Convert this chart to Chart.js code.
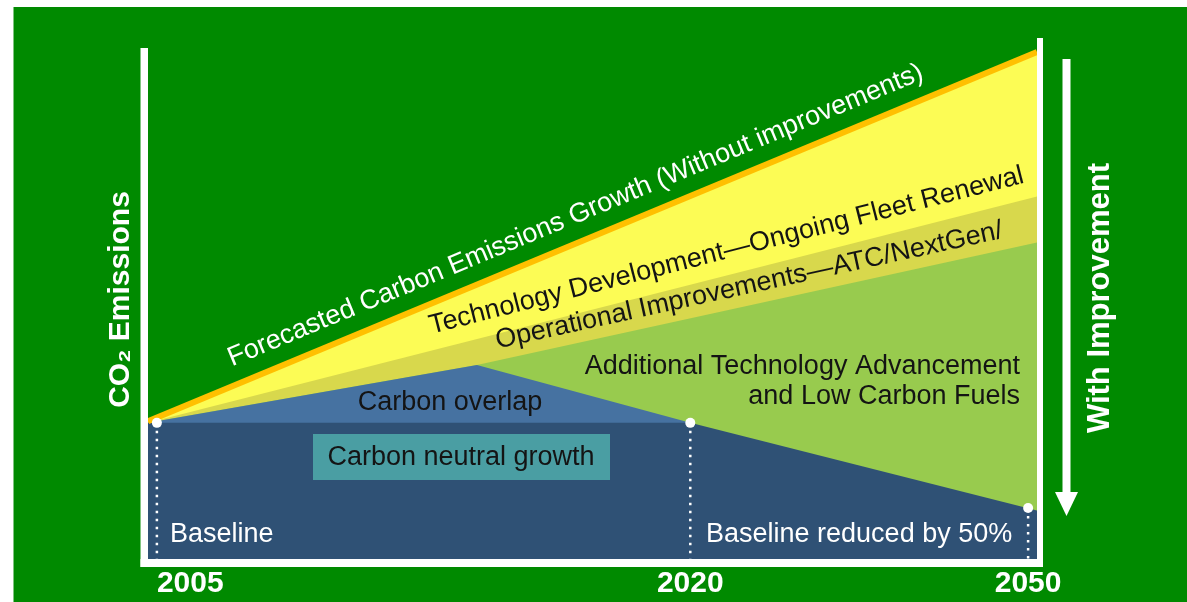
<!DOCTYPE html>
<html>
<head>
<meta charset="utf-8">
<title>CO2 emissions with improvement</title>
<script src="https://cdn.jsdelivr.net/npm/chart.js@4.4.1/dist/chart.umd.min.js"></script>
<style>
  html, body { margin: 0; padding: 0; background: #fff; }
  #wrap { width: 1187px; height: 602px; position: relative; }
</style>
</head>
<body>
<div id="wrap"><canvas id="chart"></canvas></div>
<script>
// Schematic timeline: x runs 0..100 across the plot, y is an emissions index (2005 = 100)
const timeline = [0, 37, 61, 100];            // 2005 start, overlap peak, 2020, 2050 end
const forecastGrowth  = [101, null, null, 318];
const technologyDev   = [100, null, null, 233];
const operationalImp  = [100, 134, null, 206];
const carbonOverlap   = [100, 134, 100, null];
const withImprovement = [100, null, 100, 48.5];

// milestones on the x axis
const milestoneYears = ['2005', '2020', '2050'];
const milestoneX = [1, 61, 99];
const milestoneLevel = [100, 100, 50];         // baseline, carbon neutral, baseline reduced by 50%

const yFloor = 20;
const yCeil = 325;

const GREEN = '#008A00';
const FONT = "'Liberation Sans', Arial, sans-serif";

Chart.defaults.font.family = FONT;

function series(values) {
    return timeline.map(function(x, i) { return { x: x, y: values[i] }; })
        .filter(function(p) { return p.y !== null; });
}

function valueAt(values, xVal) {
    const pts = series(values);
    for (let i = 1; i < pts.length; i++) {
        if (xVal <= pts[i].x) {
            const a = pts[i - 1], b = pts[i];
            return a.y + (b.y - a.y) * (xVal - a.x) / (b.x - a.x);
        }
    }
    return pts[pts.length - 1].y;
}

// dotted drop lines from each milestone dot to the floor
const drops = [];
milestoneX.forEach(function(x, i) {
    drops.push({ x: x, y: milestoneLevel[i] }, { x: x, y: yFloor }, { x: x, y: null });
});

function area(label, values, color, order) {
    return {
        label: label,
        data: series(values),
        backgroundColor: color,
        borderColor: 'transparent',
        borderWidth: 0,
        pointRadius: 0,
        fill: 'start',
        order: order
    };
}

// draw a label rotated along one of the series lines
function labelAlong(chart, values, xVal, lift, text) {
    const ctx = chart.ctx, xs = chart.scales.x, ys = chart.scales.y;
    const pts = series(values);
    const a = pts[pts.length - 2], b = pts[pts.length - 1];
    const angle = Math.atan2(ys.getPixelForValue(b.y) - ys.getPixelForValue(a.y),
                             xs.getPixelForValue(b.x) - xs.getPixelForValue(a.x));
    const px = xs.getPixelForValue(xVal);
    const py = ys.getPixelForValue(valueAt(values, xVal)) - lift;
    ctx.save();
    ctx.translate(px, py);
    ctx.rotate(angle);
    ctx.textAlign = 'left';
    ctx.textBaseline = 'alphabetic';
    ctx.fillText(text, 0, 0);
    ctx.restore();
}

const decor = {
    id: 'decor',
    beforeDraw(chart) {
        const ctx = chart.ctx;
        ctx.save();
        ctx.fillStyle = '#fff';
        ctx.fillRect(0, 0, chart.width, chart.height);
        ctx.fillStyle = GREEN;
        ctx.fillRect(13.5, 7, chart.width - 13.5, chart.height - 7);
        ctx.restore();
    },
    afterDatasetsDraw(chart) {
        const ctx = chart.ctx;
        const ca = chart.chartArea;
        ctx.save();

        // axis frame
        ctx.fillStyle = '#fff';
        ctx.fillRect(ca.left - 7.5, 48, 7.5, ca.bottom + 8 - 48);
        ctx.fillRect(ca.left - 7.5, ca.bottom, ca.right + 6 - ca.left + 7.5, 8);
        ctx.fillRect(ca.right, 38, 6, ca.bottom + 8 - 38);

        // "with improvement" arrow
        ctx.fillRect(ca.right + 25.5, 59, 8, 434);
        ctx.beginPath();
        ctx.moveTo(ca.right + 18, 492);
        ctx.lineTo(ca.right + 41, 492);
        ctx.lineTo(ca.right + 29.5, 516);
        ctx.closePath();
        ctx.fill();

        ctx.save();
        ctx.translate(ca.right + 63, 298);
        ctx.rotate(-Math.PI / 2);
        ctx.font = 'bold 31px ' + FONT;
        ctx.textAlign = 'center';
        ctx.textBaseline = 'middle';
        ctx.fillText('With Improvement', 0, 0);
        ctx.restore();

        // band labels along the lines
        ctx.font = '27px ' + FONT;
        ctx.fillStyle = '#fff';
        labelAlong(chart, forecastGrowth, 9.45, 20, 'Forecasted Carbon Emissions Growth (Without improvements)');
        ctx.fillStyle = '#141414';
        labelAlong(chart, technologyDev, 31.9, 17, 'Technology Development\u2014Ongoing Fleet Renewal');
        labelAlong(chart, operationalImp, 39.3, 12, 'Operational Improvements\u2014ATC/NextGen/');

        // region labels
        ctx.textBaseline = 'middle';
        ctx.textAlign = 'center';
        ctx.fillText('Carbon overlap', 450, 403);

        ctx.fillStyle = '#4A9EA3';
        ctx.fillRect(313, 434, 297, 46);
        ctx.fillStyle = '#141414';
        ctx.fillText('Carbon neutral growth', 461, 458);

        ctx.textAlign = 'right';
        ctx.fillText('Additional Technology Advancement', 1020, 367);
        ctx.fillText('and Low Carbon Fuels', 1020, 397);

        ctx.fillStyle = '#fff';
        ctx.textAlign = 'left';
        ctx.fillText('Baseline', 170, 535);
        ctx.fillText('Baseline reduced by 50%', 706, 535);

        ctx.restore();
    }
};

new Chart(document.getElementById('chart'), {
    type: 'line',
    data: {
        datasets: [
            {
                label: 'Milestones',
                data: milestoneX.map(function(x, i) { return { x: x, y: milestoneLevel[i] }; }),
                showLine: false,
                pointRadius: 5,
                pointBackgroundColor: '#fff',
                pointBorderWidth: 0,
                order: 0
            },
            {
                label: 'Milestone drops',
                data: drops,
                borderColor: '#fff',
                borderWidth: 2.5,
                borderDash: [2.5, 5.5],
                pointRadius: 0,
                fill: false,
                spanGaps: false,
                order: 1
            },
            area('Baseline reduced by 50%', withImprovement, '#2F5175', 2),
            area('Carbon overlap', carbonOverlap, '#4672A1', 3),
            area('Additional Technology Advancement and Low Carbon Fuels', operationalImp, '#98CB4E', 4),
            area('Operational Improvements', technologyDev, '#D8D84C', 5),
            {
                label: 'Forecasted Carbon Emissions Growth',
                data: series(forecastGrowth),
                backgroundColor: '#FCFC55',
                borderColor: '#FFC000',
                borderWidth: 6,
                pointRadius: 0,
                fill: 'start',
                order: 6
            }
        ]
    },
    options: {
        responsive: true,
        maintainAspectRatio: false,
        animation: false,
        layout: { padding: { left: 103, right: 150, top: 40, bottom: -7 } },
        plugins: {
            legend: { display: false },
            tooltip: { enabled: false },
            filler: { drawTime: 'beforeDatasetsDraw' }
        },
        scales: {
            x: {
                type: 'linear',
                min: 0,
                max: 100,
                afterBuildTicks: function(scale) {
                    // milestone ticks, plus an unlabelled one at the end so 2050 stays centred
                    scale.ticks = milestoneX.map(function(v) { return { value: v }; });
                    scale.ticks.push({ value: scale.max });
                },
                ticks: {
                    autoSkip: false,
                    maxRotation: 0,
                    align: 'inner',
                    padding: 7,
                    color: '#fff',
                    font: { size: 30, weight: 'bold' },
                    callback: function(value, index) { return milestoneYears[index] || ''; }
                },
                grid: { display: false, drawTicks: false },
                border: { display: false }
            },
            y: {
                min: yFloor,
                max: yCeil,
                ticks: { display: false },
                grid: { display: false, drawTicks: false },
                border: { display: false },
                title: {
                    display: true,
                    text: 'CO\u2082 Emissions',
                    color: '#fff',
                    font: { size: 30, weight: 'bold' },
                    padding: { top: 0, bottom: 9 }
                }
            }
        }
    },
    plugins: [decor]
});
</script>
</body>
</html>
